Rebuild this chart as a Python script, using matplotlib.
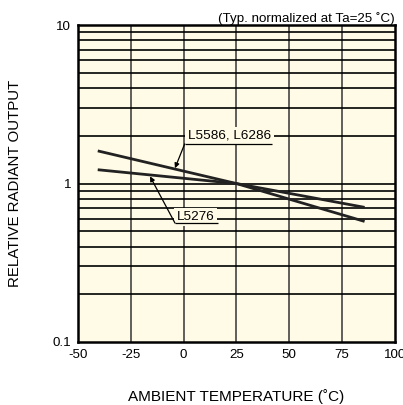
import numpy as np
import matplotlib.pyplot as plt

plt.rcParams['font.family'] = ['Liberation Sans', 'DejaVu Sans']

# ambient temperature (C) and relative radiant output
temp = [-40, 25, 85]
l5586_l6286 = [1.60, 1.0, 0.58]
l5276 = [1.22, 1.0, 0.71]

x_ticks = [-50, -25, 0, 25, 50, 75, 100]
x_labels = ['-50', '-25', '0', '25', '50', '75', '100']
y_ticks = [0.1, 1, 10]
y_labels = ['0.1', '1', '10']

bg = '#fffbe6'

fig = plt.figure(figsize=(4.03, 4.05), dpi=100)
ax = fig.add_axes([0.1935, 0.1556, 0.7865, 0.7824])
ax.set_facecolor(bg)
ax.set_yscale('log')
ax.set_xlim(-50, 100)
ax.set_ylim(0.1, 10)

# grid: every 25 C and every 1..9 per decade
for xv in x_ticks[1:-1]:
    ax.axvline(xv, color='#444444', lw=1.2, zorder=1)
for dec in [0.1, 1]:
    for k in range(1, 10):
        v = dec * k
        if 0.1 < v < 10:
            ax.axhline(v, color='black', lw=1.2, zorder=1)

ax.plot(temp, l5586_l6286, color='#222222', lw=2.0, zorder=3)
ax.plot(temp, l5276, color='#222222', lw=2.0, zorder=3)

# labels, underlines and leaders
box = dict(boxstyle='square,pad=0.2', fc=bg, ec='none')
arrow = dict(arrowstyle='-|>', color='black', lw=0.9, mutation_scale=7,
             shrinkA=0, shrinkB=0)
ax.text(2, 2.0, 'L5586, L6286', fontsize=9.7, ha='left', va='center',
        zorder=4, bbox=box)
ax.plot([0.5, 41.8], [1.78, 1.78], color='black', lw=0.9, zorder=4,
        solid_capstyle='butt')
ax.annotate('', xy=(-4.1, 1.25), xytext=(0.5, 1.78), arrowprops=arrow,
            zorder=4)

ax.text(-3.2, 0.615, 'L5276', fontsize=9.7, ha='left', va='center',
        zorder=4, bbox=box)
ax.plot([-4.1, 16.2], [0.563, 0.563], color='black', lw=0.9, zorder=4,
        solid_capstyle='butt')
ax.annotate('', xy=(-15.9, 1.11), xytext=(-4.1, 0.563), arrowprops=arrow,
            zorder=4)

ax.set_xticks(x_ticks)
ax.set_xticklabels(x_labels)
ax.set_yticks(y_ticks)
ax.set_yticklabels(y_labels)
ax.yaxis.set_minor_locator(plt.NullLocator())
ax.tick_params(length=0, labelsize=9.6, pad=5)
for s in ax.spines.values():
    s.set_linewidth(1.8)
    s.set_zorder(5)

ax.set_xlabel('AMBIENT TEMPERATURE (˚C)', fontsize=11, labelpad=20)
ax.set_ylabel('RELATIVE RADIANT OUTPUT', fontsize=10.8, labelpad=22)
ax.set_title('(Typ. normalized at Ta=25 ˚C)', fontsize=9.6, loc='right', pad=2)

fig.savefig('out.png', dpi=100)
